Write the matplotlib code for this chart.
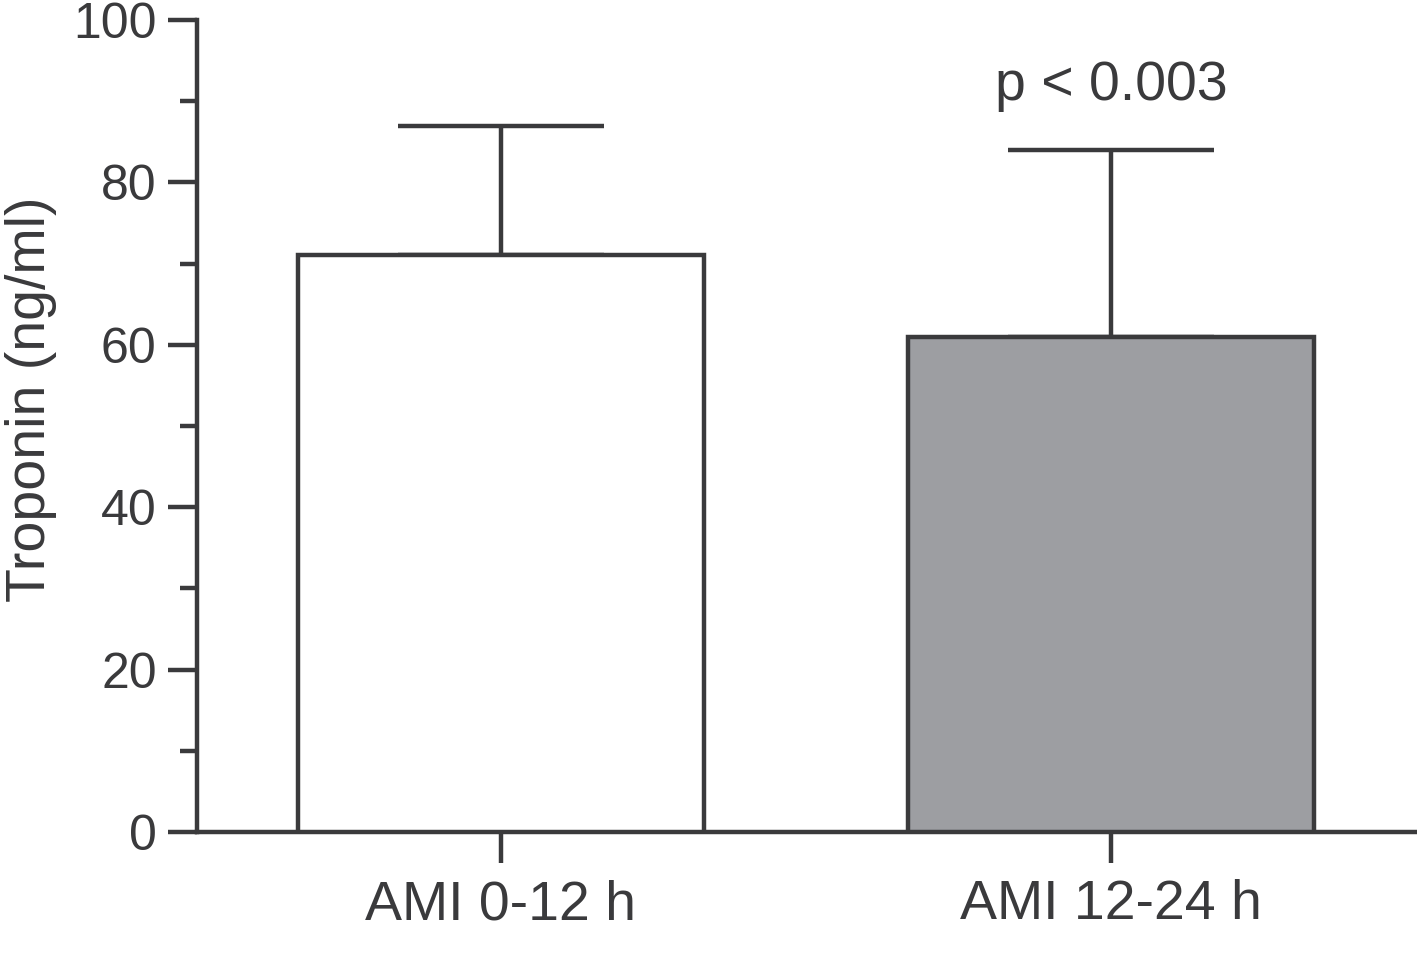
import matplotlib
matplotlib.use("Agg")
import matplotlib.pyplot as plt
from matplotlib.ticker import MultipleLocator

categories = ["AMI 0-12 h", "AMI 12-24 h"]
means = [71, 61]
sd_upper = [16, 23]
bar_colors = ["#ffffff", "#9d9ea2"]
annotation = "p < 0.003"

plt.rcParams['font.family'] = ['Liberation Sans', 'DejaVu Sans']
dark = "#3a3a3c"
lw = 3.2

fig = plt.figure(figsize=(14.17, 9.77), dpi=100)
ax = fig.add_axes([197/1417, 1-832/977, (1415-197)/1417, (832-20)/977])

x = list(range(len(categories)))
ax.bar(x, means, width=0.666, color=bar_colors, edgecolor=dark, linewidth=lw, zorder=3)
ax.errorbar(x, means, yerr=[[0]*len(x), sd_upper], fmt='none', ecolor=dark,
            elinewidth=lw, capsize=74.5, capthick=lw, zorder=2)

ax.text(x[1], 84 + 4.7, annotation, ha='center', va='bottom', fontsize=40, color=dark)

ax.set_xlim(-0.498, 1.498)
ax.set_ylim(0, 100)
ax.set_xticks(x)
ax.set_xticklabels(categories, fontsize=40, color=dark)
ax.yaxis.set_major_locator(MultipleLocator(20))
ax.yaxis.set_minor_locator(MultipleLocator(10))
ax.tick_params(axis='y', which='major', length=21, width=lw, color=dark, labelsize=36, labelcolor=dark, pad=8)
ax.tick_params(axis='y', which='minor', length=12, width=lw, color=dark)
ax.tick_params(axis='x', which='major', length=22, width=lw, color=dark, pad=12)
ax.set_ylabel("Troponin (ng/ml)", fontsize=40, color=dark)
ax.yaxis.set_label_coords(-0.115, 0.533)

for s in ['top', 'right']:
    ax.spines[s].set_visible(False)
for s in ['left', 'bottom']:
    ax.spines[s].set_linewidth(lw)
    ax.spines[s].set_color(dark)

fig.savefig("out.png", dpi=100)
